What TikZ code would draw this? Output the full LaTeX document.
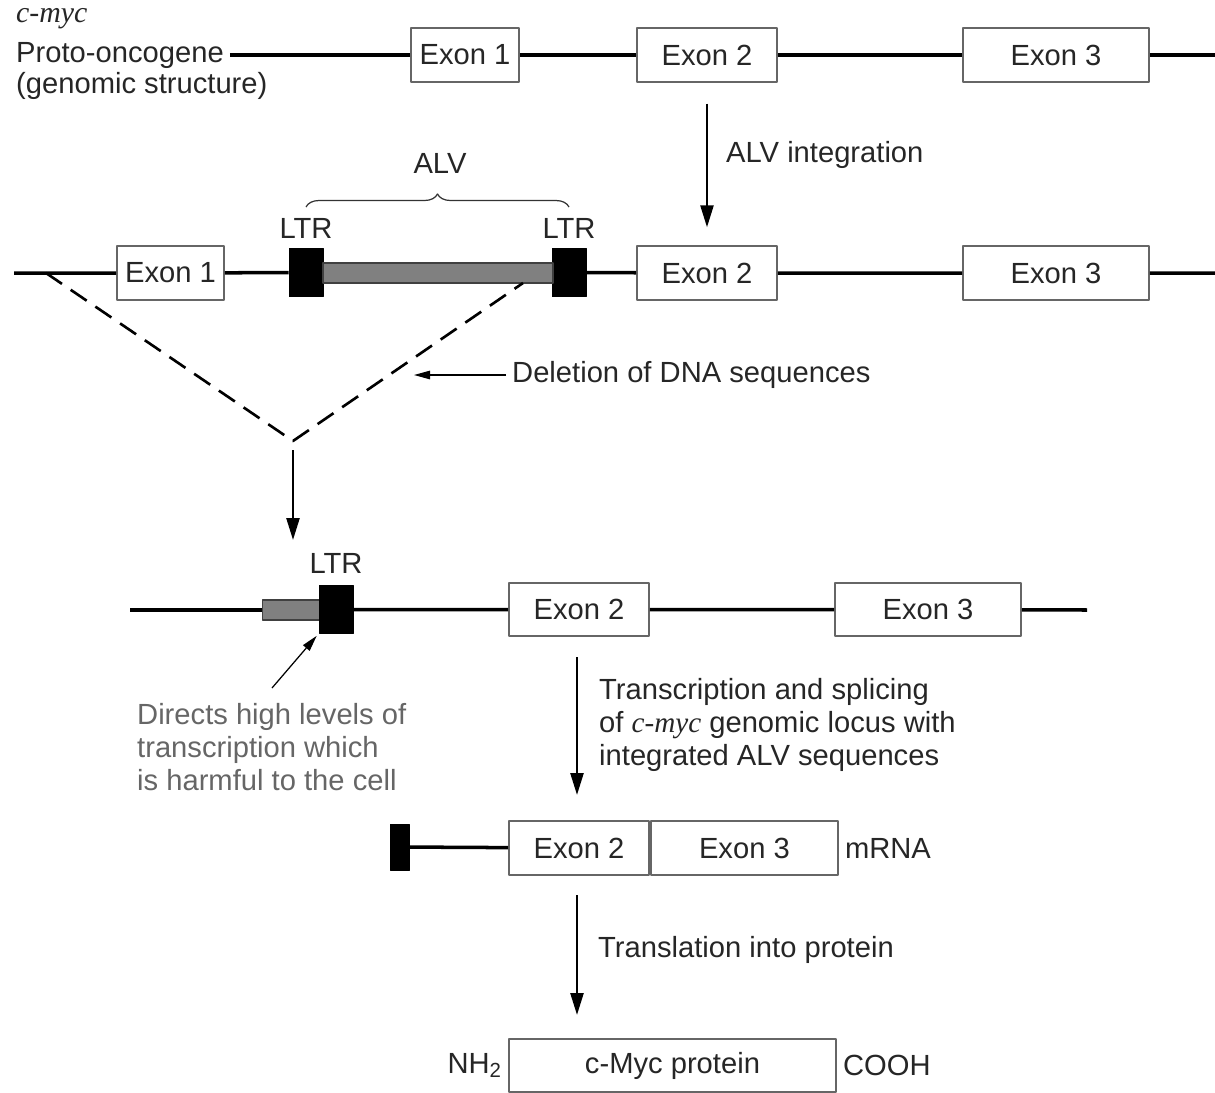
\documentclass[tikz,border=0pt]{standalone}
\usepackage{fontspec}
\setmainfont{Liberation Sans}
\newfontfamily\genefont{Liberation Serif}
\usetikzlibrary{arrows.meta,decorations.pathreplacing}

\begin{document}
\begin{tikzpicture}[line join=round,x=0.02cm,y=-0.02cm,
		every node/.style={font=\fontsize{16.6}{18.8}\selectfont,text=black!85},
		dna/.style={line width=2pt,black},
		exon/.style={draw=black!60,line width=1.1pt,fill=white,inner sep=0pt,minimum height=1.07cm},
		ltr/.style={fill=black,draw=black,inner sep=0pt,minimum width=0.68cm,minimum height=0.97cm},
		alvbar/.style={fill=black!50,draw=black!75,line width=0.6pt,inner sep=0pt,minimum height=0.4cm},
		flow/.style={line width=1.4pt,-{Triangle[width=0.26cm,length=0.44cm]}},
		pointer/.style={line width=0.7pt,-{Triangle[width=0.17cm,length=0.32cm]}},
		cut/.style={line width=1.5pt,dash pattern=on 11pt off 6pt}]
	\useasboundingbox (0,0) rectangle (1215,1093);

	%% genomic structure
	\node[anchor=west,font=\fontsize{17}{19}\genefont\itshape] (cmyc) at (10,19) {c-myc};
	\node[anchor=west] (proto) at (10,55) {Proto-oncogene};
	\node[anchor=west] (genomic) at (10,86) {(genomic structure)};
	\coordinate (r1e) at (1215,55);
	\node[exon,minimum width=2.16cm] (ex1a) at (465,55) {Exon 1};
	\node[exon,minimum width=2.8cm] (ex2a) at (707,55) {Exon 2};
	\node[exon,minimum width=3.72cm] (ex3a) at (1056,55) {Exon 3};
	\draw[dna] (proto.east) -- (ex1a) -- (ex2a) -- (ex3a) -- (r1e);

	%% after integration
	\coordinate (r2s) at (14,273);
	\coordinate (r2e) at (1215,273);
	\node[exon,minimum width=2.14cm] (ex1b) at (170.5,273) {Exon 1};
	\node[ltr] (ltrL) at (306,272.5) {};
	\node[ltr] (ltrR) at (569,272.5) {};
	\node[exon,minimum width=2.8cm] (ex2b) at (707,273) {Exon 2};
	\node[exon,minimum width=3.72cm] (ex3b) at (1056,273) {Exon 3};
	\draw[dna] (r2s) -- (ex1b) -- (ltrL);
	\draw[dna] (ltrR) -- (ex2b) -- (ex3b) -- (r2e);
	\node[alvbar,minimum width=4.6cm] (alv) at (438,273) {};
	\node (ltrLlab) at (306,228) {LTR};
	\node (ltrRlab) at (569,228) {LTR};
	\coordinate (brL) at (306,207);
	\coordinate (brR) at (569,207);
	\draw[line width=0.7pt,black!80,decorate,decoration={brace,amplitude=0.26cm}] (brL) -- (brR);
	\node (alvlab) at (440,163) {ALV};

	\draw[flow,shorten <=0.42cm,shorten >=0.36cm] (ex2a) -- (ex2b);
	\node[anchor=west] (integ) at (720,155) {ALV integration};

	%% deleted stretch
	\coordinate (dl) at (46,273);
	\coordinate (dv) at (293,441);
	\coordinate (dr) at (523,283);
	\draw[cut] (dl) -- (dv) -- (dr);
	\node[anchor=west] (del) at (506,375) {Deletion of DNA sequences};
	\coordinate (delTip) at (414,375);
	\draw[pointer] (del) -- (delTip);
	\coordinate (drop) at (293,540);
	\draw[flow,shorten <=0.18cm] (dv) -- (drop);

	%% rearranged locus
	\coordinate (r3s) at (130,610);
	\coordinate (r3e) at (1087,610);
	\node[alvbar,minimum width=1.14cm] (bar3) at (291,610) {};
	\node[ltr,minimum height=0.95cm] (ltrC) at (336,609.5) {};
	\node[exon,minimum width=2.8cm] (ex2c) at (579,609.5) {Exon 2};
	\node[exon,minimum width=3.72cm] (ex3c) at (928,609.5) {Exon 3};
	\draw[dna] (r3s) -- (bar3.west);
	\draw[dna] (ltrC) -- (ex2c) -- (ex3c) -- (r3e);
	\node (ltrClab) at (336,563) {LTR};
	\node[anchor=west,align=left,text=black!60] (harm) at (131,747)
		{Directs high levels of\\transcription which\\is harmful to the cell};
	\coordinate (harmTail) at (272,688);
	\draw[pointer,shorten >=0.06cm] (harmTail) -- (ltrC.south west);

	\coordinate (spliceTop) at (577,657);
	\coordinate (spliceEnd) at (577,795);
	\draw[flow] (spliceTop) -- (spliceEnd);
	\node[anchor=west,align=left] (splice) at (593,725)
		{Transcription and splicing\\of {\genefont\itshape c-myc} genomic locus with\\integrated ALV sequences};

	%% mRNA
	\node[ltr,minimum width=0.38cm,minimum height=0.92cm] (cap) at (399.5,847) {};
	\node[exon,minimum width=2.8cm] (ex2d) at (579,848) {Exon 2};
	\node[exon,minimum width=3.74cm,anchor=west] (ex3d) at (ex2d.east) {Exon 3};
	\draw[dna] (cap) -- (ex2d);
	\node[anchor=west] (mrna) at (ex3d.east) {mRNA};

	%% protein
	\node[exon,minimum width=6.54cm,minimum height=1.06cm] (prot) at (672.5,1065.5) {c-Myc protein};
	\node[anchor=east] (nterm) at (prot.west) {NH\textsubscript{2}};
	\node[anchor=west] (cterm) at (prot.east) {COOH};
	\coordinate (transTop) at (577,895);
	\coordinate (transEnd) at (577,1015);
	\draw[flow] (transTop) -- (transEnd);
	\node[anchor=west] (transl) at (592,950) {Translation into protein};
\end{tikzpicture}
\end{document}
